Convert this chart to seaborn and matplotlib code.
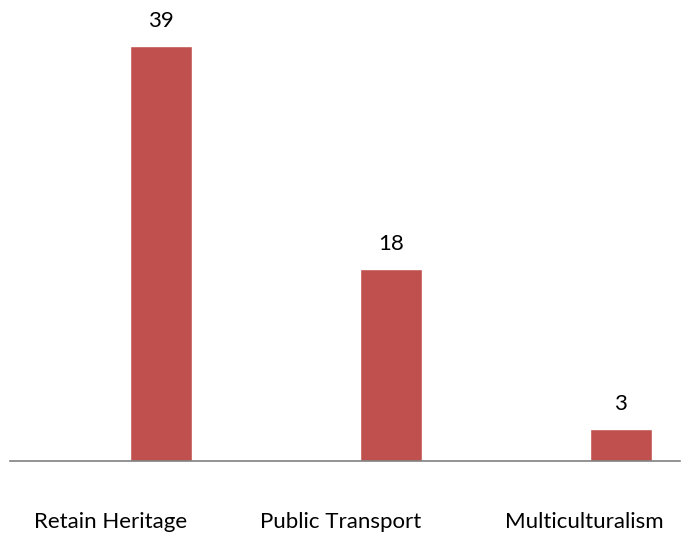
import pandas as pd
import matplotlib
matplotlib.use("Agg")
import matplotlib.pyplot as plt
import seaborn as sns

# chart data
categories = ["Retain Heritage", "Public Transport", "Multiculturalism"]
counts = [39, 18, 3]

df = pd.DataFrame({"Category": categories, "Count": counts})

sns.set_style("white")
plt.rcParams["font.family"] = ["Lato", "DejaVu Sans"]
plt.rcParams["text.color"] = "black"
plt.rcParams["xtick.color"] = "black"

fig = plt.figure(figsize=(6.89, 5.39), dpi=100)
ax = fig.add_axes([10 / 689, 1 - 461 / 539, 670 / 689, (461 - 14) / 539])

sns.barplot(x="Category", y="Count", data=df, color="#C0504D", width=0.27,
            saturation=1, ax=ax)

ax.set_xlim(-0.657, 2.257)
ax.set_ylim(0, 42)

# value labels above the bars
for i, v in enumerate(counts):
    ax.annotate(str(v), (i, v), xytext=(0, 11), textcoords="offset points",
                ha="center", va="bottom", fontsize=16, color="black")

# category labels sit a little left of the bars, like the original
ax.set_xticks([-0.22, 0.78, 1.84])
ax.set_xticklabels(categories)
ax.set_xlabel("")
ax.set_ylabel("")
ax.set_yticks([])
ax.tick_params(axis="x", length=0, pad=37, labelsize=16, labelcolor="black")
for side in ["top", "left", "right"]:
    ax.spines[side].set_visible(False)
ax.spines["bottom"].set_color("#808080")
ax.spines["bottom"].set_linewidth(1.2)

fig.savefig("out.png", dpi=100)
